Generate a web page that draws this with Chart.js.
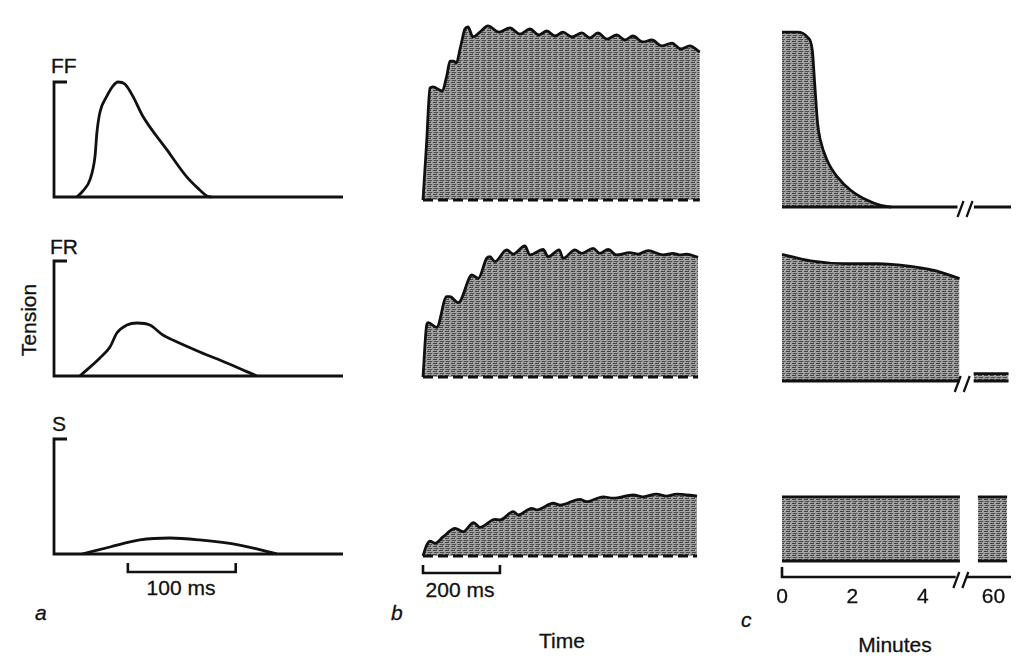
<!DOCTYPE html>
<html>
<head>
<meta charset="utf-8">
<script src="https://cdn.jsdelivr.net/npm/chart.js@4.4.0/dist/chart.umd.min.js"></script>
<style>
body{margin:0;background:#fff;width:1024px;height:670px;overflow:hidden;position:relative;font-family:"Liberation Sans",Arial,sans-serif;color:#111}
canvas{position:absolute}
.lbl{position:absolute;font-size:21px;line-height:1;white-space:nowrap;-webkit-text-stroke:0.3px #111}
.c{transform:translateX(-50%)}
</style>
</head>
<body>
<div class="lbl" style="left:51px;top:55px">FF</div>
<div class="lbl" style="left:50px;top:236px">FR</div>
<div class="lbl" style="left:52px;top:413px">S</div>
<div class="lbl" style="left:28px;top:320px;transform:translate(-50%,-50%) rotate(-90deg)">Tension</div>
<div class="lbl c" style="left:181px;top:577px">100 ms</div>
<div class="lbl c" style="left:460px;top:579px">200 ms</div>
<div class="lbl" style="left:35px;top:602px;font-style:italic">a</div>
<div class="lbl" style="left:391px;top:602px;font-style:italic">b</div>
<div class="lbl" style="left:741px;top:609px;font-style:italic">c</div>
<div class="lbl c" style="left:562px;top:630px">Time</div>
<div class="lbl c" style="left:895px;top:634px">Minutes</div>
<script>
// a: single twitch (ms, relative tension)
const twitchT_FF = [21.3, 26.9, 33.3, 38, 39.8, 42.6, 49, 54.6, 59.3, 65.7, 73.1, 82.4, 104.6, 123.1, 135.2, 141.7, 146];
const twitchY_FF = [0, 0.053, 0.149, 0.351, 0.561, 0.737, 0.877, 0.965, 1, 0.982, 0.877, 0.702, 0.412, 0.175, 0.061, 0.009, 0];
const twitchT_FR = [24, 42.6, 51.9, 58.3, 67.6, 76.9, 88.9, 100.9, 110.2, 135.2, 160.2, 188];
const twitchY_FR = [0, 0.157, 0.252, 0.374, 0.443, 0.461, 0.443, 0.357, 0.313, 0.209, 0.113, 0];
const twitchT_S = [26, 52, 79.6, 107.4, 135, 172, 207];
const twitchY_S = [0, 0.061, 0.122, 0.139, 0.122, 0.078, 0];
const twitchBar = [68.5, 168.5]; // 100 ms

// b: tetanus (ms, relative tension)
const tetT_FF = [0, 9.1, 18.2, 26, 49.4, 62.3, 70.1, 80.5, 85.7, 98.7, 109, 116.9, 129.9, 148, 168.8, 197.4, 225.9, 251.9, 277.9, 301.3, 322, 342.9, 363.6, 387, 413, 433.8, 454.5, 477.9, 503.9, 524.7, 545.5, 571.4, 594.8, 620.8, 646.8, 670.1, 693.5, 719.5];
const tetY_FF = [0, 0.306, 0.622, 0.628, 0.606, 0.694, 0.772, 0.772, 0.761, 0.861, 0.95, 0.961, 0.906, 0.933, 0.967, 0.933, 0.956, 0.922, 0.95, 0.917, 0.939, 0.911, 0.933, 0.906, 0.928, 0.9, 0.928, 0.894, 0.917, 0.889, 0.911, 0.878, 0.889, 0.856, 0.872, 0.839, 0.856, 0.822];
const tetT_FR = [0, 9.6, 13.8, 35.6, 61.5, 70.1, 91.7, 122, 126.5, 143.6, 165.4, 174, 187, 217.4, 234.5, 264.9, 277.9, 312.4, 325.4, 354, 364.4, 394.8, 412.1, 442.3, 459.7, 481.2, 503, 537.6, 559.1, 585.1, 624.1, 650.1, 667.4, 684.8, 715];
const tetY_FR = [0, 0.289, 0.302, 0.276, 0.446, 0.446, 0.413, 0.557, 0.567, 0.548, 0.659, 0.668, 0.641, 0.706, 0.683, 0.728, 0.678, 0.709, 0.668, 0.706, 0.659, 0.706, 0.687, 0.715, 0.687, 0.709, 0.678, 0.691, 0.683, 0.702, 0.678, 0.687, 0.678, 0.683, 0.665];
const tetT_S = [0, 9.6, 18.2, 31.2, 52.7, 83.1, 104.7, 131.4, 148, 187, 200, 234.5, 247.5, 282.3, 295.3, 338.4, 355.8, 407.7, 425.1, 468.2, 494.2, 546.1, 572.1, 606.9, 632.9, 658.9, 712.4];
const tetY_S = [0, 0.061, 0.083, 0.071, 0.107, 0.154, 0.135, 0.185, 0.159, 0.204, 0.2, 0.246, 0.228, 0.265, 0.256, 0.293, 0.283, 0.315, 0.302, 0.329, 0.321, 0.339, 0.329, 0.344, 0.333, 0.344, 0.333];
const tetBar = [0, 200]; // 200 ms

// c: fatigue (minutes, relative tension)
const fatT_FF = [0, 0.1, 0.43, 0.72, 0.86, 0.93, 1.01, 1.09, 1.28, 1.57, 1.95, 2.42, 2.8, 3.1];
const fatY_FF = [0.972, 0.972, 0.972, 0.944, 0.871, 0.68, 0.465, 0.371, 0.26, 0.167, 0.093, 0.037, 0.009, 0];
const fatT_FR = [0, 0.81, 1.76, 2.7, 3.65, 4.31, 5.04];
const fatY_FR = [0.704, 0.667, 0.652, 0.652, 0.637, 0.615, 0.569];
const fatT_FR60 = [59.44, 60.43];
const fatY_FR60 = [0.041, 0.041];
const fatT_S = [0, 5.05];
const fatY_S = [0.356, 0.356];
const fatT_S60 = [59.56, 60.39];
const fatY_S60 = [0.356, 0.356];
const minuteTicks = [0, 2, 4, 60];

// axis break: minutes after the gap are shifted left
const brk = t => t >= 50 ? t - 54 : t;
const pts = (xs, ys, f) => xs.map((x, i) => ({x: f ? f(x) : x, y: ys[i]}));

function makePattern() {
  const rows = [
    [60, 60, 75, 60, 170, 160],
    [165, 175, 160, 170, 165, 155],
    [140, 75, 70, 85, 75, 145],
    [160, 150, 175, 120, 165, 170]
  ];
  const c = document.createElement('canvas');
  c.width = 6; c.height = 4;
  const g = c.getContext('2d');
  rows.forEach((r, j) => r.forEach((v, i) => {
    g.fillStyle = 'rgb(' + v + ',' + v + ',' + v + ')';
    g.fillRect(i, j, 1, 1);
  }));
  return g.createPattern(c, 'repeat');
}
const grey = makePattern();

function seg(ctx, p, w, dash) {
  ctx.save();
  ctx.strokeStyle = '#111';
  ctx.lineWidth = w || 2.6;
  ctx.setLineDash(dash || []);
  ctx.beginPath();
  p.forEach((q, i) => i ? ctx.lineTo(q[0], q[1]) : ctx.moveTo(q[0], q[1]));
  ctx.stroke();
  ctx.restore();
}
function slashes(ctx, px, py) {
  seg(ctx, [[px - 8, py + 8], [px - 2, py - 8]], 2.2);
  seg(ctx, [[px + 1, py + 8], [px + 7, py - 8]], 2.2);
}

const P = 50;
function addChart(g, datasets, deco) {
  const w = Math.round((g.xmax - g.xmin) * g.xpx), h = g.hpx;
  const cv = document.createElement('canvas');
  cv.width = w + 2 * P;
  cv.height = h + 2 * P;
  cv.style.left = Math.round(g.x0 + g.xmin * g.xpx - P) + 'px';
  cv.style.top = Math.round(g.base - h - P) + 'px';
  document.body.appendChild(cv);
  datasets.forEach(d => {
    d.borderColor = '#111';
    d.borderWidth = 2.8;
    d.pointRadius = 0;
    d.cubicInterpolationMode = 'monotone';
    d.clip = false;
    if (d.fill) d.backgroundColor = grey;
  });
  return new Chart(cv, {
    type: 'line',
    data: {datasets: datasets},
    options: {
      responsive: false,
      animation: false,
      events: [],
      layout: {padding: P},
      plugins: {legend: {display: false}, tooltip: {enabled: false}},
      scales: {
        x: {type: 'linear', display: false, min: g.xmin, max: g.xmax},
        y: {display: false, min: 0, max: 1}
      }
    },
    plugins: [{id: 'deco', afterDatasetsDraw: c => deco(c, c.scales.x, c.scales.y, c.ctx)}]
  });
}

// column a
const colA = {x0: 54, xpx: 1.08, xmin: 0, xmax: 268, hpx: 115};
function twitchAxes(c, x, y, ctx) {
  const x0 = x.getPixelForValue(0), y0 = y.getPixelForValue(0), y1 = y.getPixelForValue(1);
  seg(ctx, [[x0 + 13, y1], [x0, y1], [x0, y0], [x.getPixelForValue(268), y0]], 2.8);
}
addChart(Object.assign({base: 197}, colA), [{data: pts(twitchT_FF, twitchY_FF), fill: false}], twitchAxes);
addChart(Object.assign({base: 376}, colA), [{data: pts(twitchT_FR, twitchY_FR), fill: false}], twitchAxes);
addChart(Object.assign({base: 554}, colA), [{data: pts(twitchT_S, twitchY_S), fill: false}], (c, x, y, ctx) => {
  twitchAxes(c, x, y, ctx);
  const yb = y.getPixelForValue(0) + 18, b0 = x.getPixelForValue(twitchBar[0]), b1 = x.getPixelForValue(twitchBar[1]);
  seg(ctx, [[b0, yb - 9], [b0, yb], [b1, yb], [b1, yb - 9]], 2.6);
});

// column b
const colB = {x0: 423, xpx: 0.385, xmin: 0, xmax: 720, hpx: 180};
function dashBase(x, y, ctx, t1) {
  const y0 = y.getPixelForValue(0);
  seg(ctx, [[x.getPixelForValue(0), y0], [x.getPixelForValue(t1), y0]], 2.8, [10, 5]);
}
addChart(Object.assign({base: 200}, colB), [{data: pts(tetT_FF, tetY_FF), fill: 'origin'}], (c, x, y, ctx) => dashBase(x, y, ctx, tetT_FF[tetT_FF.length - 1]));
addChart(Object.assign({base: 377}, colB), [{data: pts(tetT_FR, tetY_FR), fill: 'origin'}], (c, x, y, ctx) => dashBase(x, y, ctx, tetT_FR[tetT_FR.length - 1]));
addChart(Object.assign({base: 556}, colB), [{data: pts(tetT_S, tetY_S), fill: 'origin'}], (c, x, y, ctx) => {
  dashBase(x, y, ctx, tetT_S[tetT_S.length - 1]);
  const yb = y.getPixelForValue(0) + 17, b0 = x.getPixelForValue(tetBar[0]), b1 = x.getPixelForValue(tetBar[1]);
  seg(ctx, [[b0, yb - 8], [b0, yb], [b1, yb], [b1, yb - 8]], 2.6);
});

// column c
const colC = {x0: 781.5, xpx: 35.2, xmin: 0, xmax: 6.5, hpx: 180};
function baseSegs(x, y, ctx, segs) {
  const y0 = y.getPixelForValue(0);
  segs.forEach(s => seg(ctx, [[x.getPixelForValue(s[0]), y0], [x.getPixelForValue(s[1]), y0]], 2.8));
}
addChart(Object.assign({base: 206.7}, colC), [{data: pts(fatT_FF, fatY_FF), fill: 'origin'}], (c, x, y, ctx) => {
  baseSegs(x, y, ctx, [[0, 4.98], [5.45, 6.5]]);
  slashes(ctx, x.getPixelForValue(5.21), y.getPixelForValue(0) + 2);
});
addChart(Object.assign({base: 380.7}, colC), [
  {data: pts(fatT_FR, fatY_FR), fill: 'origin'},
  {data: pts(fatT_FR60, fatY_FR60, brk), fill: 'origin'}
], (c, x, y, ctx) => {
  baseSegs(x, y, ctx, [[0, fatT_FR[fatT_FR.length - 1]], [brk(fatT_FR60[0]), brk(fatT_FR60[1])]]);
  slashes(ctx, x.getPixelForValue(5.13), y.getPixelForValue(0) + 3);
});
addChart(Object.assign({base: 560.7}, colC), [
  {data: pts(fatT_S, fatY_S), fill: 'origin'},
  {data: pts(fatT_S60, fatY_S60, brk), fill: 'origin'}
], (c, x, y, ctx) => {
  baseSegs(x, y, ctx, [[0, fatT_S[1]], [brk(fatT_S60[0]), brk(fatT_S60[1])]]);
  const ya = y.getPixelForValue(0) + 16;
  seg(ctx, [[x.getPixelForValue(0), ya - 10], [x.getPixelForValue(0), ya], [x.getPixelForValue(4.93), ya]], 2.6);
  seg(ctx, [[x.getPixelForValue(5.25), ya], [x.getPixelForValue(6.5), ya]], 2.6);
  slashes(ctx, x.getPixelForValue(5.09), ya + 3);
  ctx.save();
  ctx.fillStyle = '#111';
  ctx.strokeStyle = '#111';
  ctx.lineWidth = 0.3;
  ctx.font = '21px "Liberation Sans", Arial, sans-serif';
  ctx.textAlign = 'center';
  minuteTicks.forEach(v => {
    const px = x.getPixelForValue(brk(v));
    ctx.fillText(String(v), px, ya + 26);
    ctx.strokeText(String(v), px, ya + 26);
  });
  ctx.restore();
});
</script>
</body>
</html>
